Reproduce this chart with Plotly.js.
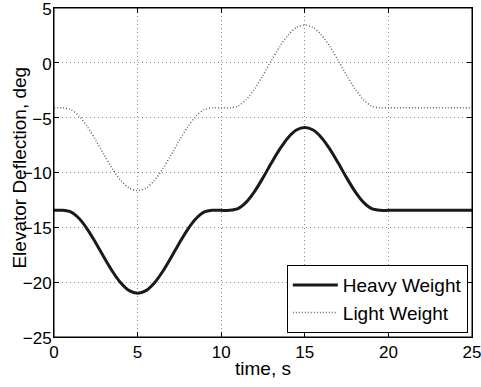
<!DOCTYPE html>
<html>
<head>
<meta charset="utf-8">
<script src="https://cdn.plot.ly/plotly-3.0.1.min.js"></script>
<style>html,body{margin:0;padding:0;background:#fff;}#chart{width:481px;height:387px;}</style>
</head>
<body>
<div id="chart"></div>
<script>
const time = [0,0.5,1,1.5,2,2.5,3,3.5,4,4.5,5,5.5,6,6.5,7,7.5,8,8.5,9,9.5,10,10.5,11,11.5,12,12.5,13,13.5,14,14.5,15,15.5,16,16.5,17,17.5,18,18.5,19,19.5,20,20.5,21,21.5,22,22.5,23,23.5,24,24.5,25];
const heavyWeight = [-13.45,-13.45,-13.60,-14.20,-15.18,-16.42,-17.76,-19.03,-20.08,-20.77,-21.00,-20.77,-20.08,-19.03,-17.76,-16.42,-15.18,-14.20,-13.60,-13.45,-13.45,-13.45,-13.30,-12.70,-11.72,-10.48,-9.14,-7.87,-6.82,-6.13,-5.90,-6.13,-6.82,-7.87,-9.14,-10.48,-11.72,-12.70,-13.30,-13.45,-13.45,-13.45,-13.45,-13.45,-13.45,-13.45,-13.45,-13.45,-13.45,-13.45,-13.45];
const lightWeight = [-4.10,-4.10,-4.25,-4.85,-5.83,-7.07,-8.41,-9.68,-10.73,-11.42,-11.65,-11.42,-10.73,-9.68,-8.41,-7.07,-5.83,-4.85,-4.25,-4.10,-4.10,-4.10,-3.95,-3.35,-2.37,-1.13,0.21,1.48,2.53,3.22,3.45,3.22,2.53,1.48,0.21,-1.13,-2.37,-3.35,-3.95,-4.10,-4.10,-4.10,-4.10,-4.10,-4.10,-4.10,-4.10,-4.10,-4.10,-4.10,-4.10];
const seriesNames = ['Heavy Weight','Light Weight'];
const xTicks = [0,5,10,15,20,25];
const yTicks = [-25,-20,-15,-10,-5,0,5];
const xTitle = 'time, s';
const yTitle = 'Elevator Deflection, deg';

const font = {family:'"Liberation Sans", Arial, sans-serif', size:19, color:'#000'};
const tickFont = {family:'"Liberation Sans", Arial, sans-serif', size:17, color:'#000'};
const traces = [
  {x:time, y:heavyWeight, name:seriesNames[0], type:'scatter', mode:'lines',
   line:{color:'#1a1a1a', width:3, shape:'spline', smoothing:0.8}},
  {x:time, y:lightWeight, name:seriesNames[1], type:'scatter', mode:'lines',
   line:{color:'#666', width:1.5, dash:'1px,2px', shape:'spline', smoothing:0.8}}
];
const axisCommon = {
  showline:true, linecolor:'#000', linewidth:1, mirror:'ticks',
  ticks:'inside', ticklen:5, tickcolor:'#000', tickwidth:1,
  showgrid:true, gridcolor:'#888', griddash:'1px,3px', gridwidth:1,
  zeroline:false, tickfont:tickFont, automargin:false, ticklabeloverflow:'allow'
};
const layout = {
  width:481, height:387,
  margin:{l:54, r:9, t:8, b:50},
  paper_bgcolor:'#fff', plot_bgcolor:'#fff',
  font:font, showlegend:true,
  xaxis:Object.assign({}, axisCommon, {range:[0,25], tickvals:xTicks,
    title:{text:xTitle, font:font, standoff:0}}),
  yaxis:Object.assign({}, axisCommon, {range:[-25,5], tickvals:yTicks,
    ticklabelshift:1, ticklabelstandoff:-2}),
  shapes:[{type:'rect', xref:'paper', yref:'paper', x0:0, x1:1, y0:0, y1:1,
    line:{color:'#000', width:1}, layer:'above'}],
  annotations:[{text:yTitle, xref:'paper', yref:'paper', x:-0.0813, y:0.515,
    xanchor:'center', yanchor:'middle', textangle:-90, showarrow:false, font:font}],
  legend:{x:0.99, y:0.012, xanchor:'right', yanchor:'bottom',
    bgcolor:'#fff', bordercolor:'#000', borderwidth:1, font:font,
    tracegroupgap:0, itemwidth:45}
};
Plotly.newPlot('chart', traces, layout, {displayModeBar:false, staticPlot:true});
</script>
</body>
</html>
